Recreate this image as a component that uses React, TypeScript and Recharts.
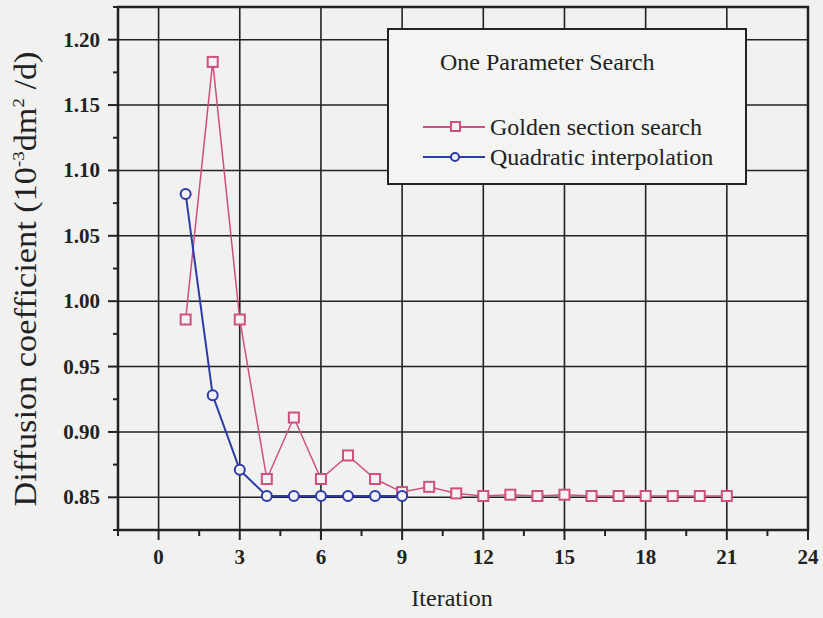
import {
  LineChart,
  Line,
  XAxis,
  YAxis,
  ReferenceLine,
  ReferenceArea,
} from "recharts";

const iterations = [1, 2, 3, 4, 5, 6, 7, 8, 9, 10, 11, 12, 13, 14, 15, 16, 17, 18, 19, 20, 21];

const goldenSection = [
  0.986, 1.183, 0.986, 0.864, 0.911, 0.864, 0.882, 0.864, 0.854, 0.858, 0.853,
  0.851, 0.852, 0.851, 0.852, 0.851, 0.851, 0.851, 0.851, 0.851, 0.851,
];

const quadratic = [1.082, 0.928, 0.871, 0.851, 0.851, 0.851, 0.851, 0.851, 0.851];

const xMajor = [0, 3, 6, 9, 12, 15, 18, 21, 24];
const xTicks = [-1.5, 0, 1.5, 3, 4.5, 6, 7.5, 9, 10.5, 12, 13.5, 15, 16.5, 18, 19.5, 21, 22.5, 24];
const yMajor = [0.85, 0.9, 0.95, 1.0, 1.05, 1.1, 1.15, 1.2];
const yTicks = [0.825, 0.85, 0.875, 0.9, 0.925, 0.95, 0.975, 1.0, 1.025, 1.05, 1.075, 1.1, 1.125, 1.15, 1.175, 1.2, 1.225];

const data = iterations.map((it, i) => ({
  it,
  golden: goldenSection[i],
  quad: i < quadratic.length ? quadratic[i] : undefined,
}));

const PINK = "#cf4f80";
const BLUE = "#2d3aa8";
const INK = "#222";
const FONT = "'Liberation Serif', 'DejaVu Serif', serif";

const isMajor = (list: number[], v: number) => list.some((m) => Math.abs(m - v) < 1e-6);

const XTick = (props: any) => {
  const { x, y, payload } = props;
  const major = isMajor(xMajor, payload.value);
  return (
    <g>
      <line x1={x} x2={x} y1={y} y2={y + (major ? 10 : 6)} stroke={INK} strokeWidth={2} />
      {major && (
        <text x={x} y={y + 34} textAnchor="middle" fontFamily={FONT} fontWeight="bold" fontSize={21} fill={INK}>
          {payload.value}
        </text>
      )}
    </g>
  );
};

const YTick = (props: any) => {
  const { x, y, payload } = props;
  const major = isMajor(yMajor, payload.value);
  return (
    <g>
      <line x1={x} x2={x - (major ? 10 : 5)} y1={y} y2={y} stroke={INK} strokeWidth={2} />
      {major && (
        <text x={x - 18} y={y + 7} textAnchor="end" fontFamily={FONT} fontWeight="bold" fontSize={21} fill={INK}>
          {payload.value.toFixed(2)}
        </text>
      )}
    </g>
  );
};

const Square = (props: any) => {
  const { cx, cy } = props;
  if (cx == null || cy == null) return null;
  return <rect x={cx - 5} y={cy - 5} width={10} height={10} fill="#f6f2f4" stroke={PINK} strokeWidth={2} />;
};

const Circle = (props: any) => {
  const { cx, cy } = props;
  if (cx == null || cy == null) return null;
  return <circle cx={cx} cy={cy} r={5} fill="#f2f2f8" stroke={BLUE} strokeWidth={2} />;
};

const LegendBox = () => (
  <div
    style={{
      position: "absolute",
      left: 387,
      top: 28,
      width: 356,
      height: 153,
      border: `2px solid ${INK}`,
      background: "#f4f4f2",
      fontFamily: FONT,
      color: INK,
    }}
  >
    <div style={{ position: "absolute", left: 51, top: 18, fontSize: 24, lineHeight: "28px" }}>One Parameter Search</div>
    {[
      { label: "Golden section search", color: PINK, square: true, top: 83 },
      { label: "Quadratic interpolation", color: BLUE, square: false, top: 113 },
    ].map((item) => (
      <div
        key={item.label}
        style={{ position: "absolute", left: 34, top: item.top, height: 28, display: "flex", alignItems: "center" }}
      >
        <svg width={64} height={20}>
          <line x1={0} x2={62} y1={10} y2={10} stroke={item.color} strokeWidth={2} />
          {item.square ? (
            <rect x={28} y={5} width={9} height={9} fill="#f6f2f4" stroke={item.color} strokeWidth={2} />
          ) : (
            <circle cx={32} cy={10} r={4} fill="#f2f2f8" stroke={item.color} strokeWidth={2} />
          )}
        </svg>
        <span style={{ fontSize: 24, lineHeight: "28px", marginLeft: 3 }}>{item.label}</span>
      </div>
    ))}
  </div>
);

export default function App() {
  return (
    <div style={{ position: "absolute", left: 0, top: 0, width: 823, height: 618, background: "#f1f1ef" }}>
      <LineChart width={823} height={618} data={data} margin={{ top: 7, right: 15, bottom: 38, left: 0 }}>
        <XAxis
          dataKey="it"
          type="number"
          domain={[-1.5, 24]}
          ticks={xTicks}
          interval={0}
          tick={<XTick />}
          tickLine={false}
          tickSize={0}
          tickMargin={0}
          axisLine={false}
          height={50}
          allowDataOverflow
        />
        <YAxis
          type="number"
          domain={[0.825, 1.225]}
          ticks={yTicks}
          interval={0}
          tick={<YTick />}
          tickLine={false}
          tickSize={0}
          tickMargin={0}
          axisLine={false}
          width={118}
          allowDataOverflow
        />
        {xMajor.map((v) => (
          <ReferenceLine key={`x${v}`} x={v} stroke={INK} strokeWidth={1.6} />
        ))}
        {yMajor.map((v) => (
          <ReferenceLine key={`y${v}`} y={v} stroke={INK} strokeWidth={1.6} />
        ))}
        <ReferenceArea x1={-1.5} x2={24} y1={0.825} y2={1.225} fill="none" stroke={INK} strokeWidth={2.5} />
        <Line
          dataKey="golden"
          stroke={PINK}
          strokeWidth={1.5}
          dot={<Square />}
          isAnimationActive={false}
        />
        <Line
          dataKey="quad"
          stroke={BLUE}
          strokeWidth={2}
          dot={<Circle />}
          connectNulls={false}
          isAnimationActive={false}
        />
      </LineChart>
      <LegendBox />
      <svg width={823} height={618} style={{ position: "absolute", left: 0, top: 0, pointerEvents: "none" }}>
        <text
          transform="translate(36 279) rotate(-90)"
          textAnchor="middle"
          fontFamily={FONT}
          fontSize={31}
          fill={INK}
          textLength={455}
          lengthAdjust="spacingAndGlyphs"
        >
          Diffusion coefficient (10
          <tspan dy={-12} fontSize={17}>-3</tspan>
          <tspan dy={12}>dm</tspan>
          <tspan dy={-12} fontSize={17}>2</tspan>
          <tspan dy={12}> /d)</tspan>
        </text>
        <text x={452} y={606} textAnchor="middle" fontFamily={FONT} fontSize={24} fill={INK}>
          Iteration
        </text>
      </svg>
    </div>
  );
}
